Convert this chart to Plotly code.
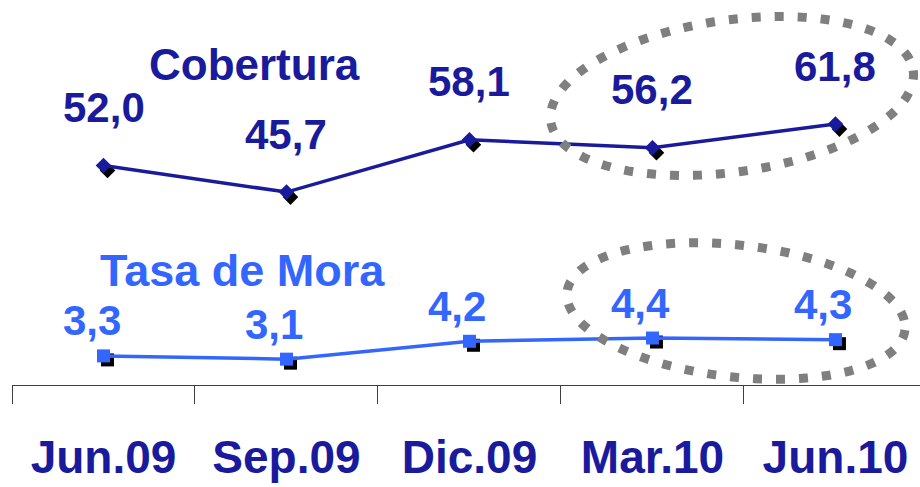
import numpy as np
import plotly.graph_objects as go

# Quarterly periods and indicator values (%)
periods = ["Jun.09", "Sep.09", "Dic.09", "Mar.10", "Jun.10"]
cobertura = [52.0, 45.7, 58.1, 56.2, 61.8]
tasa_mora = [3.3, 3.1, 4.2, 4.4, 4.3]

NAVY = "#1a1a9c"
LIGHT = "#3366ff"
GRAY = "#7f7f7f"
FONT = "Liberation Sans, Arial, sans-serif"

WIDTH, HEIGHT = 920, 487
M_L, M_R, M_T, M_B = 12, 0, 0, 102
PLOT_W = WIDTH - M_L - M_R
PLOT_H = HEIGHT - M_T - M_B

X_RANGE = [-0.5, 4.462]
COB_RANGE = [0.0, 91.2]
MORA_RANGE = [1.51, 25.2]


def shifted(rng, px, span):
    """Axis range moved so that marks land `px` pixels lower."""
    d = px * (rng[1] - rng[0]) / span
    return [rng[0] + d, rng[1] + d]


def shifted_x(rng, px):
    """Axis range moved so that marks land `px` pixels further right."""
    d = px * (rng[1] - rng[0]) / PLOT_W
    return [rng[0] - d, rng[1] - d]


def paper(px, py):
    return (px - M_L) / PLOT_W, (M_T + PLOT_H - py) / PLOT_H


def ellipse_path(cx, cy, a, b, deg, n=160):
    t = np.linspace(0, 2 * np.pi, n, endpoint=False)
    th = np.radians(deg)
    xs = cx + a * np.cos(t) * np.cos(th) - b * np.sin(t) * np.sin(th)
    ys = cy + a * np.cos(t) * np.sin(th) + b * np.sin(t) * np.cos(th)
    pts = [paper(x, y) for x, y in zip(xs, ys)]
    return "M " + " L ".join(f"{x:.5f},{y:.5f}" for x, y in pts) + " Z"


fig = go.Figure()

# drop shadows under the markers
fig.add_trace(go.Scatter(x=periods, y=cobertura, xaxis="x", yaxis="y", mode="markers",
                         marker=dict(symbol="diamond", size=12, color="black"),
                         hoverinfo="skip", showlegend=False))
fig.add_trace(go.Scatter(x=periods, y=tasa_mora, xaxis="x", yaxis="y3", mode="markers",
                         marker=dict(symbol="square", size=13, color="black"),
                         hoverinfo="skip", showlegend=False))

# the two series
fig.add_trace(go.Scatter(x=periods, y=cobertura, xaxis="x2", yaxis="y2", mode="lines+markers",
                         name="Cobertura", line=dict(color=NAVY, width=3.5),
                         marker=dict(symbol="diamond", size=12, color=NAVY),
                         showlegend=False))
fig.add_trace(go.Scatter(x=periods, y=tasa_mora, xaxis="x2", yaxis="y4", mode="lines+markers",
                         name="Tasa de Mora", line=dict(color=LIGHT, width=3.5),
                         marker=dict(symbol="square", size=13, color=LIGHT),
                         showlegend=False))

annotations = []
for p, v in zip(periods, cobertura):
    annotations.append(dict(x=p, y=v, xref="x2", yref="y2", text=f"{v:.1f}".replace(".", ","),
                            showarrow=False, yanchor="middle", yshift=58,
                            font=dict(family=FONT, size=42, color=NAVY, weight="bold")))
for p, v in zip(periods, tasa_mora):
    annotations.append(dict(x=p, y=v, xref="x2", yref="y4", text=f"{v:.1f}".replace(".", ","),
                            showarrow=False, yanchor="middle", yshift=35, xshift=-12,
                            font=dict(family=FONT, size=42, color=LIGHT, weight="bold")))

tx, ty = paper(254, 64)
annotations.append(dict(x=tx, y=ty, xref="paper", yref="paper", text="Cobertura", showarrow=False,
                        xanchor="center", yanchor="middle",
                        font=dict(family=FONT, size=44, color=NAVY, weight="bold")))
tx, ty = paper(243, 270)
annotations.append(dict(x=tx, y=ty, xref="paper", yref="paper", text="Tasa de Mora", showarrow=False,
                        xanchor="center", yanchor="middle",
                        font=dict(family=FONT, size=45, color=LIGHT, weight="bold")))

dots = dict(color=GRAY, width=9, dash="9px,14px")
shapes = [
    dict(type="path", xref="paper", yref="paper", path=ellipse_path(732, 96, 183, 76, -8),
         line=dots, layer="above"),
    dict(type="path", xref="paper", yref="paper", path=ellipse_path(736, 311, 170, 66, 6.4),
         line=dots, layer="above"),
]

hidden = dict(visible=False, fixedrange=True)
fig.update_layout(
    width=WIDTH, height=HEIGHT,
    margin=dict(l=M_L, r=M_R, t=M_T, b=M_B, autoexpand=False),
    paper_bgcolor="white", plot_bgcolor="white",
    xaxis=dict(type="category", categoryarray=periods, range=shifted_x(X_RANGE, 4), **hidden),
    xaxis2=dict(type="category", categoryarray=periods, range=X_RANGE, overlaying="x",
                side="bottom", showline=True, linecolor="#404040", linewidth=1,
                ticks="outside", tickson="boundaries", ticklen=18, tickcolor="#404040",
                tickwidth=1, showgrid=False, zeroline=False, fixedrange=True,
                automargin=False, ticklabelstandoff=32,
                tickfont=dict(family=FONT, size=46, color=NAVY, weight="bold")),
    yaxis=dict(range=shifted(COB_RANGE, 5, PLOT_H), **hidden),
    yaxis2=dict(range=COB_RANGE, overlaying="y", **hidden),
    yaxis3=dict(range=shifted(MORA_RANGE, 4, PLOT_H), overlaying="y", **hidden),
    yaxis4=dict(range=MORA_RANGE, overlaying="y", **hidden),
    annotations=annotations,
    shapes=shapes,
)

fig.write_html("out.html")
